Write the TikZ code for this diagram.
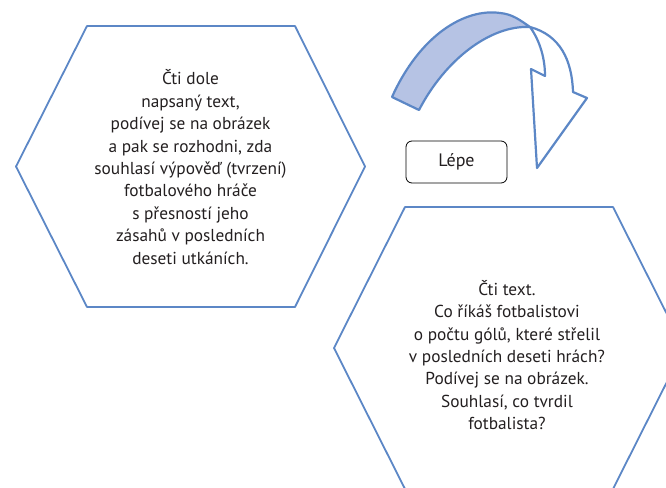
\documentclass[tikz,border=0pt]{standalone}
\usepackage{fontspec}
\setmainfont{PT Sans}
\usetikzlibrary{positioning}
\definecolor{hexblue}{RGB}{92,135,198}
\definecolor{bandblue}{RGB}{182,195,228}
\definecolor{textgray}{RGB}{35,31,32}

\begin{document}
\begin{tikzpicture}[
x=1pt, y=-1pt,
hex_line/.style={draw=hexblue, line width=1.8pt, line join=round},
hex_text/.style={align=center, text=textgray, font={\fontsize{17.3}{22.4}\selectfont}},
note_box/.style={draw=black, line width=0.8pt, rounded corners=6pt, minimum width=101pt, minimum height=42pt, text=textgray, font={\fontsize{18}{20}\selectfont}},
arrow_back/.style={draw=hexblue, line width=2.2pt, fill=bandblue, line join=round},
arrow_front/.style={draw=hexblue, line width=2.2pt, fill=white, line join=round}
]
% Fix page size
    \useasboundingbox (0,0) rectangle (666,487);
    \clip (0,0) rectangle (666,487);

% Draw left hexagon
    \draw[hex_line] (16,166.5) -- (87,26) -- (295,26) -- (365,166.5) -- (295,307) -- (87,307) -- cycle;
    \node[hex_text] (task_long) at (190.5,167) {Čti dole\\napsaný text,\\podívej se na obrázek\\a pak se rozhodni, zda\\souhlasí výpověď (tvrzení)\\fotbalového hráče\\s přesností jeho\\zásahů v posledních\\deseti utkáních.};

% Draw right hexagon
    \draw[hex_line] (334,348) -- (405,207) -- (613,207) -- (684,348) -- (613,489) -- (405,489) -- cycle;
    \node[hex_text] (task_short) at (507,355) {Čti text.\\Co říkáš fotbalistovi\\o počtu gólů, které střelil\\v posledních deseti hrách?\\Podívej se na obrázek.\\Souhlasí, co tvrdil\\fotbalista?};

% Draw label box
    \node[note_box] (better) at (456.5,162) {Lépe};

% Draw curved arrow
    \draw[arrow_back] (392,97) .. controls (420,35) and (465,8) .. (500,13) .. controls (512,14) and (520,20) .. (530,27) .. controls (490,25) and (445,60) .. (419,110) -- cycle;
    \draw[arrow_front] (530,27) .. controls (560,35) and (572,60) .. (573,92) -- (587,98) -- (537,168) -- (531,69) -- (545,76) .. controls (545,55) and (538,38) .. (530,27) -- cycle;
\end{tikzpicture}
\end{document}
